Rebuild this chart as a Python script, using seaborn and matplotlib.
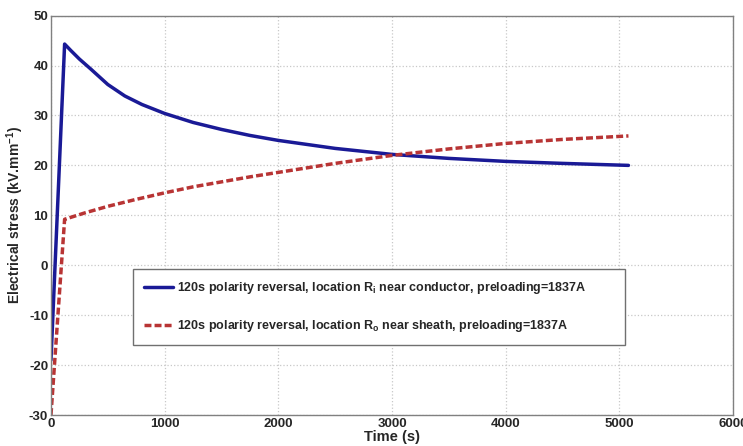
import matplotlib
matplotlib.use("Agg")
import matplotlib.pyplot as plt
import seaborn as sns
import pandas as pd

# Stress at the conductor-side location Ri (kV/mm) over time (s)
time_inner = [0, 120, 175, 250, 350, 500, 650, 800, 1000, 1250, 1500, 1750,
              2000, 2500, 3000, 3500, 4000, 4500, 5080]
stress_inner = [-19.0, 44.3, 43.0, 41.3, 39.3, 36.2, 33.9, 32.2, 30.4, 28.6,
                27.2, 26.0, 25.0, 23.4, 22.2, 21.4, 20.8, 20.4, 20.0]

# Stress at the sheath-side location Ro (kV/mm) over time (s)
time_outer = [0, 120, 300, 500, 750, 1000, 1250, 1500, 1750, 2000, 2500,
              3000, 3500, 4000, 4500, 5080]
stress_outer = [-30.0, 9.2, 10.5, 11.8, 13.2, 14.5, 15.7, 16.7, 17.7, 18.6,
                20.4, 22.0, 23.3, 24.4, 25.2, 25.9]

label_inner = r"120s polarity reversal, location R$_\mathbf{i}$ near conductor, preloading=1837A"
label_outer = r"120s polarity reversal, location R$_\mathbf{o}$ near sheath, preloading=1837A"

x_ticks = [0, 1000, 2000, 3000, 4000, 5000, 6000]
y_ticks = [-30, -20, -10, 0, 10, 20, 30, 40, 50]

sns.set_theme(style="white")
plt.rcParams["font.family"] = ["Liberation Sans", "DejaVu Sans"]
plt.rcParams["mathtext.fontset"] = "custom"
plt.rcParams["mathtext.bf"] = "Liberation Sans:bold"
plt.rcParams["mathtext.rm"] = "Liberation Sans"
plt.rcParams["axes.unicode_minus"] = False

fig = plt.figure(figsize=(7.43, 4.46), dpi=100)
ax = fig.add_axes([0.0686, 0.0695, 0.918, 0.8955])

df_inner = pd.DataFrame({"t": time_inner, "s": stress_inner})
df_outer = pd.DataFrame({"t": time_outer, "s": stress_outer})

sns.lineplot(data=df_inner, x="t", y="s", ax=ax, color="#1a1a96", lw=2.5,
             estimator=None, sort=False, label=label_inner)
sns.lineplot(data=df_outer, x="t", y="s", ax=ax, color="#b83434", lw=2.5,
             estimator=None, sort=False, label=label_outer)
ax.lines[1].set_dashes((2.0, 0.9))

ax.set_xlim(0, 6000)
ax.set_ylim(-30, 50)
ax.set_xticks(x_ticks)
ax.set_yticks(y_ticks)
ax.tick_params(axis="both", labelsize=9.5, length=3, direction="in",
               color="#777777", pad=2)
for lab in ax.get_xticklabels() + ax.get_yticklabels():
    lab.set_fontweight("bold")

ax.grid(True, color="#c8c8c8", linestyle=":", linewidth=0.9)
for sp in ax.spines.values():
    sp.set_color("#808080")
    sp.set_linewidth(1.0)

ax.set_xlabel("Time (s)", fontsize=10.5, fontweight="bold", labelpad=0)
ax.set_ylabel(r"Electrical stress (kV.mm$^{\mathbf{-1}}$)", fontsize=10,
              fontweight="bold", labelpad=2)

leg = ax.legend(loc="upper left", bbox_to_anchor=(0.120, 0.180, 0.722, 0.186),
                mode="expand", frameon=True, fancybox=False, framealpha=1,
                edgecolor="#707070", fontsize=9.0, handlelength=2.3,
                labelspacing=1.75, borderpad=0.9, handletextpad=0.3,
                borderaxespad=0)
leg.get_frame().set_linewidth(1.0)
for t in leg.get_texts():
    t.set_fontweight("bold")

fig.savefig("out.png", dpi=100)
